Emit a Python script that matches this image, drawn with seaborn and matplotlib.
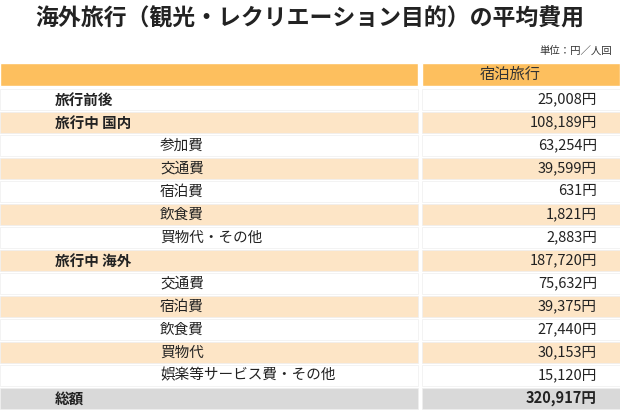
import matplotlib
matplotlib.use("Agg")
import matplotlib.pyplot as plt
import seaborn as sns
import numpy as np

title = "海外旅行（観光・レクリエーション目的）の平均費用"
unit = "単位：円／人回"
column = "宿泊旅行"
labels = ["旅行前後", "旅行中 国内", "参加費", "交通費", "宿泊費", "飲食費", "買物代・その他",
          "旅行中 海外", "交通費", "宿泊費", "飲食費", "買物代", "娯楽等サービス費・その他", "総額"]
levels = [0, 0, 1, 1, 1, 1, 1, 0, 1, 1, 1, 1, 1, 0]
values = [25008, 108189, 63254, 39599, 631, 1821, 2883,
          187720, 75632, 39375, 27440, 30153, 15120, 320917]

sns.set_theme(style="white", rc={"font.family": "Noto Sans CJK JP"})
fig = plt.figure(figsize=(6.2, 4.2), dpi=100)
ax = fig.add_axes([0, 0, 1, 1])
ax.set_xlim(0, 620)
ax.set_ylim(420, 0)
ax.axis("off")

orange = "#FDBF5E"
peach = "#FDE5C6"
gray = "#D9D9D9"
n = len(labels)
row_h = 23
top = 88
ys = top + row_h * np.arange(n) + row_h / 2
colors = []
for i in range(n):
    if i == n - 1:
        colors.append(gray)
    elif i % 2 == 1:
        colors.append(peach)
    else:
        colors.append("white")

ax.barh([74], [418], left=0, height=23, color=orange)
ax.barh([74], [198], left=422, height=23, color=orange)
ax.text(510, 74, column, ha="center", va="center", fontsize=11, color="#333333")
ax.barh(ys, [418] * n, left=0, height=row_h - 1.5, color=colors, edgecolor="#EEEEEE", linewidth=0.5)
ax.barh(ys, [198] * n, left=422, height=row_h - 1.5, color=colors, edgecolor="#EEEEEE", linewidth=0.5)
for i in range(n):
    x = 55 if levels[i] == 0 else 160
    bold = levels[i] == 0
    ax.text(x, ys[i], labels[i], ha="left", va="center", fontsize=10.5,
            fontweight="bold" if bold else "normal", color="#222222")
    ax.text(597, ys[i], f"{values[i]:,}円", ha="right", va="center", fontsize=10.5,
            fontweight="bold" if i == n - 1 else "normal", color="#222222")

ax.text(310, 19, title, ha="center", va="center", fontsize=16.5, fontweight="bold", color="#222222")
ax.text(612, 51, unit, ha="right", va="center", fontsize=7.5, color="#333333")
fig.savefig("out.png", dpi=100)
